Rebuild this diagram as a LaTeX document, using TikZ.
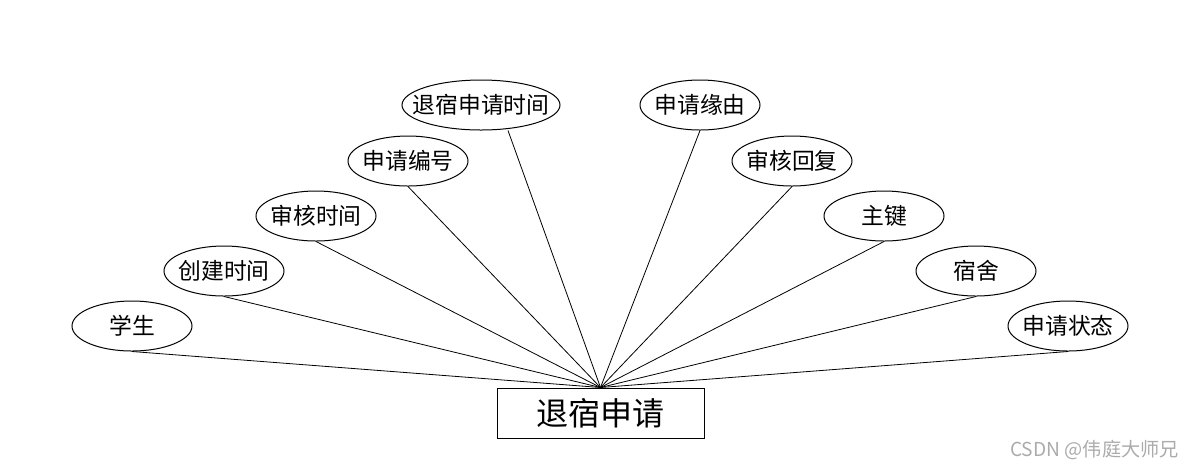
\documentclass[tikz,border=0pt]{standalone}
\usepackage{fontspec}
\usetikzlibrary{shapes.geometric}
\newfontfamily\cjk{Noto Sans CJK SC}
\setsansfont{Liberation Sans}
\newcommand\zwbox[1]{\makebox[0pt]{#1}}
\begin{document}
\begin{tikzpicture}[x=0.5pt,y=-0.5pt,
  attr/.style={draw,ellipse,line width=0.5pt,minimum width=60pt,minimum height=25pt,inner sep=0pt,font=\cjk\fontsize{11.4pt}{12pt}\selectfont},
  ent/.style={draw,rectangle,line width=0.5pt,minimum width=103.5pt,minimum height=25pt,inner sep=0pt,font=\cjk\fontsize{16pt}{18pt}\selectfont},
  link/.style={line width=0.4pt}]
\useasboundingbox (0,0) rectangle (1200,468);
\node[ent] (r) at (600.5,413) {退宿申请};
\node[attr] (a1) at (132,326) {\zwbox{学生}};
\node[attr] (a2) at (224,271) {\zwbox{创建时间}};
\node[attr] (a3) at (316,216) {\zwbox{审核时间}};
\node[attr] (a4) at (408,161) {\zwbox{申请编号}};
\node[attr,minimum width=79pt] (a5) at (481,105) {\zwbox{退宿申请时间}};
\node[attr] (a6) at (700,105) {\zwbox{申请缘由}};
\node[attr] (a7) at (792,161) {\zwbox{审核回复}};
\node[attr] (a8) at (884,216) {\zwbox{主键}};
\node[attr] (a9) at (976,271) {\zwbox{宿舍}};
\node[attr] (a10) at (1068,326) {\zwbox{申请状态}};
\coordinate (hub) at (r.north);
\foreach \n in {a1,a2,a3,a4,a6,a7,a8,a9,a10} \draw[link] (\n.south) -- (hub);
\draw[link] ([xshift=13.5pt]a5.south) -- (hub);
\node[font=\cjk\fontsize{9.6pt}{10pt}\selectfont,text=black!33,anchor=east] (wm) at (1186,450) {CSDN @伟庭大师兄};
\end{tikzpicture}
\end{document}
